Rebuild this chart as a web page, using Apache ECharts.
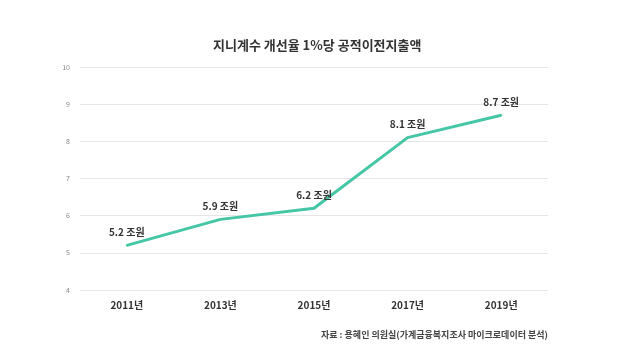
<!DOCTYPE html>
<html><head><meta charset="utf-8">
<script src="https://cdn.jsdelivr.net/npm/echarts@6/dist/echarts.min.js"></script>
<style>html,body{margin:0;padding:0;background:#fff}#c{width:640px;height:364px}</style>
</head><body><div id="c"></div>
<script>
const titleText = '지니계수 개선율 1%당 공적이전지출액';
const sourceText = '자료 : 용혜인 의원실(가계금융복지조사 마이크로데이터 분석)';
const categories = ['2011년', '2013년', '2015년', '2017년', '2019년'];
const values = [5.2, 5.9, 6.2, 8.1, 8.7];
const unit = ' 조원';
const yMin = 4, yMax = 10, yStep = 1;

const font = '"Noto Sans CJK KR", "Noto Sans", sans-serif';
const chart = echarts.init(document.getElementById('c'), null, {renderer: 'canvas'});
chart.setOption({
  backgroundColor: '#fff',
  animation: false,
  textStyle: {fontFamily: font},
  title: [{
    text: titleText, left: 208, top: 34,
    textStyle: {fontFamily: font, fontSize: 13, fontWeight: 'bold', color: '#333'}
  }, {
    text: sourceText, left: 316, top: 325,
    textStyle: {fontFamily: font, fontSize: 9, fontWeight: 'bold', color: '#444'}
  }],
  grid: {left: 80, right: 92, top: 67, bottom: 74},
  xAxis: {
    type: 'category', data: categories, boundaryGap: true,
    axisLine: {show: false}, axisTick: {show: false},
    axisLabel: {fontFamily: font, fontSize: 10, fontWeight: 'bold', color: '#333', margin: 10}
  },
  yAxis: {
    type: 'value', min: yMin, max: yMax, interval: yStep,
    axisLine: {show: false}, axisTick: {show: false},
    axisLabel: {fontSize: 7, color: '#888', margin: 10},
    splitLine: {lineStyle: {color: '#e6e6e6', width: 1}}
  },
  series: [{
    type: 'line', data: values, symbol: 'circle', symbolSize: 2, showSymbol: true,
    itemStyle: {color: '#45c6a5'},
    lineStyle: {color: '#45c6a5', width: 3},
    label: {
      show: true, position: 'top', distance: 7,
      formatter: p => p.value + unit,
      fontFamily: font, fontSize: 10, fontWeight: 'bold', color: '#333'
    }
  }]
});
</script></body></html>
